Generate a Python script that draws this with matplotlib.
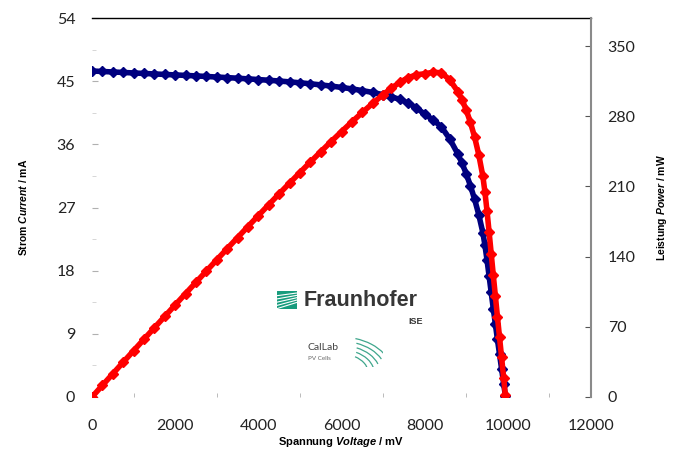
import numpy as np
import matplotlib
matplotlib.use("Agg")
import matplotlib.pyplot as plt
from matplotlib.patches import Rectangle, Arc

voltage_mv = [0, 250, 500, 750, 1000, 1250, 1500, 1750, 2000, 2250, 2500, 2750,
              3000, 3250, 3500, 3750, 4000, 4250, 4500, 4750, 5000, 5250, 5500,
              5750, 6000, 6250, 6500, 6750, 7000, 7200, 7400, 7600, 7800, 8000,
              8200, 8400, 8600, 8800, 8900, 9000, 9100, 9200, 9300, 9400, 9450,
              9500, 9550, 9600, 9650, 9700, 9750, 9800, 9850, 9900, 9940]
current_ma = [46.45, 46.38, 46.31, 46.24, 46.17, 46.10, 46.03, 45.96, 45.89, 45.82,
              45.75, 45.67, 45.59, 45.51, 45.42, 45.33, 45.23, 45.13, 45.02, 44.90,
              44.77, 44.63, 44.47, 44.30, 44.11, 43.90, 43.66, 43.39, 43.08, 42.78,
              42.40, 41.90, 41.20, 40.30, 39.50, 38.50, 36.80, 34.60, 33.30, 31.80,
              30.10, 28.20, 26.00, 23.40, 21.60, 19.50, 17.20, 14.90, 12.60, 10.40,
              8.20, 6.10, 4.00, 1.90, 0.20]

x_ticks = [0, 2000, 4000, 6000, 8000, 10000, 12000]
y_ticks_current = [0, 9, 18, 27, 36, 45, 54]
y_ticks_power = [0, 70, 140, 210, 280, 350]

voltage = np.array(voltage_mv)
current = np.array(current_ma)
power_mw = voltage * current / 1000.0  # P = U * I

plt.rcParams['font.family'] = ['Lato', 'DejaVu Sans']
plt.rcParams['mathtext.fontset'] = 'custom'
plt.rcParams['mathtext.it'] = 'Liberation Sans:italic:bold'
plt.rcParams['mathtext.rm'] = 'Liberation Sans:bold'

LABEL_FONT = ['Liberation Sans', 'DejaVu Sans']
BLUE = '#00007F'
RED = '#FF0000'

fig = plt.figure(figsize=(6.78, 4.5), dpi=100)
ax = fig.add_axes([92 / 678, 1 - 397 / 450, 499 / 678, 379 / 450])
ax2 = ax.twinx()

ax.plot(voltage, current, color=BLUE, lw=4.0, marker='D', ms=5,
        mec=BLUE, mfc=BLUE, zorder=3, solid_capstyle='round')
ax2.plot(voltage, power_mw, color=RED, lw=4.0, marker='D', ms=5,
         mec=RED, mfc=RED, zorder=3, solid_capstyle='round')

ax.set_xlim(0, 12000)
ax.set_ylim(0, 54)
ax2.set_ylim(0, 378)

ax.set_xticks(x_ticks)
ax.set_yticks(y_ticks_current)
ax2.set_yticks(y_ticks_power)
ax.set_xticks(np.arange(1000, 12000, 2000), minor=True)
ax.set_yticks(np.arange(4.5, 54, 9), minor=True)

for s in ['left', 'bottom']:
    ax.spines[s].set_visible(False)
    ax2.spines[s].set_visible(False)
ax.spines['right'].set_visible(False)
ax2.spines['top'].set_visible(False)
ax.spines['top'].set_color('black')
ax.spines['top'].set_linewidth(1.0)
ax2.spines['right'].set_color('#8a8a8a')
ax2.spines['right'].set_linewidth(1.5)

ax.tick_params(axis='y', which='major', direction='in', length=4, color='#b0b0b0',
               labelsize=11.5, pad=12, labelcolor='#222222')
ax.tick_params(axis='y', which='minor', direction='in', length=3, color='#d0d0d0')
ax.tick_params(axis='x', which='major', direction='in', length=0,
               labelsize=11.5, pad=16, labelcolor='#222222')
ax.tick_params(axis='x', which='minor', direction='in', length=3, color='#b0b0b0')
ax2.tick_params(axis='y', direction='in', length=4, color='#555555',
                labelsize=11.5, pad=12, labelcolor='#222222')

ax.set_ylabel(r'Strom $\mathit{Current}$ / mA', fontsize=7.5, fontweight='bold',
              family=LABEL_FONT, labelpad=20)
ax2.set_ylabel(r'Leistung $\mathit{Power}$ / mW', fontsize=7.5, fontweight='bold',
               family=LABEL_FONT, labelpad=14)
ax.set_xlabel(r'Spannung $\mathit{Voltage}$ / mV', fontsize=8, fontweight='bold',
              family=LABEL_FONT, labelpad=1)

# Logo Fraunhofer ISE
logo = fig.add_axes([277 / 678, 1 - 309 / 450, 20 / 678, 18 / 450])
logo.set_xlim(0, 1)
logo.set_ylim(0, 1)
logo.axis('off')
logo.add_patch(Rectangle((0, 0), 1, 1, color='#179C7D'))
for k in range(5):
    yy = 0.12 + k * 0.18
    logo.plot([0, 1], [yy - 0.1, yy + 0.25 - k * 0.05], color='white', lw=0.8)
fig.text(304 / 678, 1 - 301 / 450, 'Fraunhofer', fontsize=15.5, fontweight='bold',
         family=LABEL_FONT, color='#363636', va='center', ha='left')
fig.text(423 / 678, 1 - 322 / 450, 'ISE', fontsize=6.5, fontweight='bold',
         family=LABEL_FONT, color='#363636', va='center', ha='right')
fig.text(308 / 678, 1 - 347 / 450, 'CalLab', fontsize=7.5, color='#444444',
         va='center', ha='left')
fig.text(308 / 678, 1 - 358 / 450, 'PV Cells', fontsize=4.5, color='#666666',
         va='center', ha='left')

arcs = fig.add_axes([345 / 678, 1 - 367 / 450, 38 / 678, 32 / 450])
arcs.set_xlim(0, 1)
arcs.set_ylim(0, 1)
arcs.axis('off')
for k in range(5):
    r = 0.55 + k * 0.12
    arcs.add_patch(Arc((-0.1, -0.2), 2 * r * 1.3, 2 * r * 1.1,
                       theta1=5 + k * 6, theta2=55 + k * 4,
                       color='#3FA68C', lw=0.9))

fig.savefig('out.png', dpi=100)
